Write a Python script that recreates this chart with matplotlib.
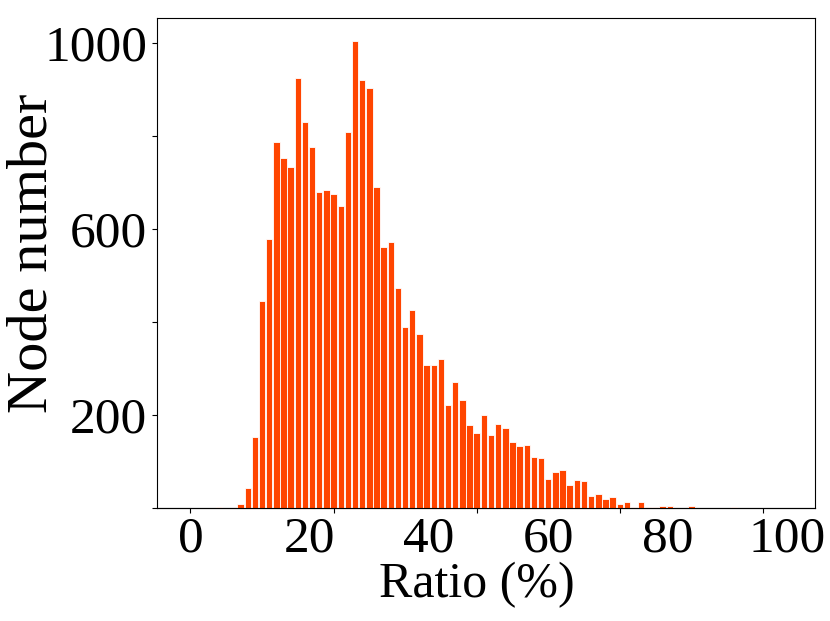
import numpy as np
import matplotlib
matplotlib.use("Agg")
import matplotlib.pyplot as plt

plt.rcParams['font.family'] = ['Liberation Serif', 'DejaVu Serif']

# bin index (1 bin = 1.2 % ratio) and node count per bin
bins = np.arange(0, 84)
counts = np.zeros(84)
counts[4] = 3
counts[7:68] = [9, 42, 152, 444, 578, 787, 753, 733, 925, 830, 776, 680, 684, 674,
                649, 807, 1003, 920, 903, 690, 561, 572, 472, 390, 426, 373, 308,
                307, 321, 221, 271, 232, 178, 162, 199, 156, 180, 172, 142, 134,
                135, 110, 107, 62, 77, 82, 49, 60, 58, 25, 31, 19, 23, 9, 12, 2,
                13, 2, 3, 4, 4]
counts[70] = 4
counts[76] = 2
counts[77] = 1
counts[82] = 1
counts[83] = 1

ratio_ticks = [0, 20, 40, 60, 80, 100]
y_ticks = [0, 200, 400, 600, 800, 1000]
y_labels = ['', '200', '', '600', '', '1000']

fig = plt.figure(figsize=(8.3, 6.21), dpi=100)
ax = fig.add_axes([0.189, 0.182, 0.793, 0.789])

ax.bar(bins, counts, width=0.9, color='#ff4500', edgecolor='white', linewidth=0.6)

ax.set_xlim(-4.7, 87.3)
ax.set_ylim(0, 1053)

ax.set_xticks([0, 20, 40, 60, 80])
ax.set_xticklabels([])
ax.set_yticks(y_ticks)
ax.set_yticklabels(y_labels)
ax.tick_params(axis='y', labelsize=37)

# percentage labels live on a second axis (bin * 1.2 = ratio)
sec = ax.secondary_xaxis('bottom', functions=(lambda x: x * 1.2, lambda v: v / 1.2))
sec.set_xticks(ratio_ticks)
sec.tick_params(length=0, labelsize=37, pad=6)

ax.set_xlabel('Ratio (%)', fontsize=36)
ax.xaxis.set_label_coords(0.486, -0.11)

ax.set_ylabel('Node number', fontsize=42)
ax.yaxis.set_label_coords(-0.15, 0.52)

fig.savefig('out.png', dpi=100)
